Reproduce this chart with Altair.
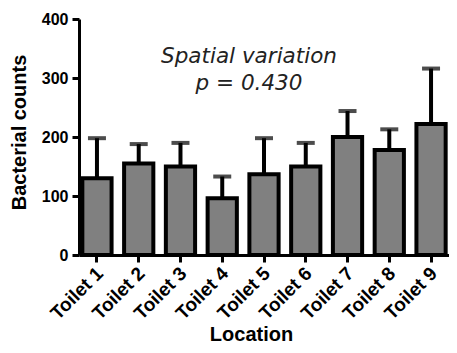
import altair as alt
import pandas as pd

locations = ["Toilet 1", "Toilet 2", "Toilet 3", "Toilet 4", "Toilet 5",
             "Toilet 6", "Toilet 7", "Toilet 8", "Toilet 9"]
means = [130, 155, 150, 96, 137, 150, 200, 178, 222]
sd = [68, 33, 40, 37, 61, 40, 44, 35, 94]
y_ticks = [0, 100, 200, 300, 400]
note_lines = ["Spatial variation", "p = 0.430"]
note_y = [325, 280]

df = pd.DataFrame({
    "loc": locations,
    "mean": means,
    "upper": [m + s for m, s in zip(means, sd)],
})
notes = pd.DataFrame({"text": note_lines, "y": note_y})

xscale = alt.Scale(paddingInner=0.3, paddingOuter=0.08)
yscale = alt.Scale(domain=[0, 400], nice=False)

x = alt.X("loc:N", sort=locations, scale=xscale,
          axis=alt.Axis(title="Location", labelAngle=-45, labelFontSize=19,
                        labelPadding=8, labelOffset=3,
                        titleFontSize=20, titleX=172, titleY=85,
                        titleBaseline="alphabetic"))
y = alt.Y("mean:Q", scale=yscale,
          axis=alt.Axis(values=y_ticks, title="Bacterial counts",
                        labelFontSize=16, labelPadding=4,
                        titleFontSize=20, titleX=-54, titleY=113,
                        titleBaseline="alphabetic"))

bars = alt.Chart(df).mark_bar(fill="#808080", stroke="black",
                              strokeWidth=4).encode(x=x, y=y)
rules = alt.Chart(df).mark_rule(color="black", strokeWidth=4).encode(
    x=alt.X("loc:N", sort=locations), y="mean:Q", y2="upper:Q")
caps = alt.Chart(df).mark_tick(color="black", size=18, thickness=4).encode(
    x=alt.X("loc:N", sort=locations), y="upper:Q")
text = alt.Chart(notes).mark_text(
    font="DejaVu Sans", fontStyle="italic", fontSize=21.5, color="#222222",
    align="center", baseline="alphabetic"
).encode(x=alt.value(170), y=alt.Y("y:Q"), text="text:N")

chart = alt.layer(rules, caps, bars, text).properties(
    width=370, height=236,
    autosize=alt.AutoSizeParams(type="none"),
    padding={"left": 71, "top": 11, "right": 0, "bottom": 90},
).configure_view(stroke=None).configure_axis(
    grid=False, domainColor="black", domainWidth=3, tickColor="black",
    tickWidth=3, tickSize=7, labelColor="black", titleColor="black",
    labelFont="Liberation Sans", titleFont="Liberation Sans",
    labelFontWeight="bold", titleFontWeight="bold",
)

chart.save("out.html", embed_options={"renderer": "svg", "actions": False})
